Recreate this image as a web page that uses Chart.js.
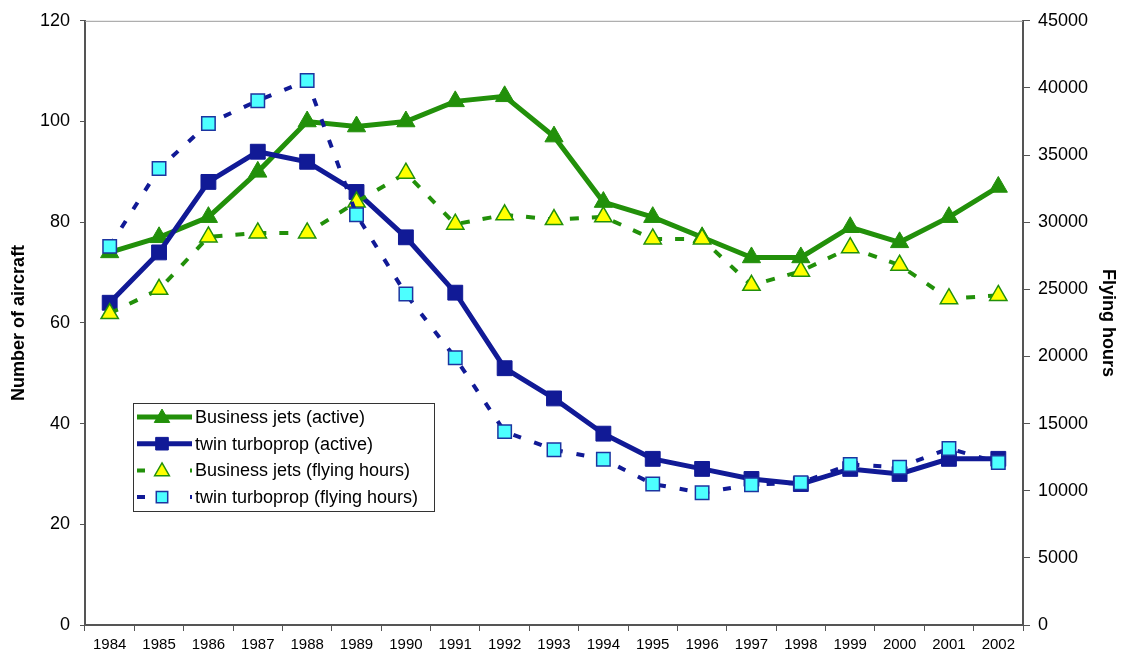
<!DOCTYPE html>
<html>
<head>
<meta charset="utf-8">
<script src="https://cdn.jsdelivr.net/npm/chart.js@4"></script>
<style>
    html, body { margin: 0; padding: 0; background: #fff; }
    #wrap { width: 1121px; height: 657px; position: relative; }
</style>
</head>
<body>
<div id="wrap"><canvas id="chart" width="1121" height="657"></canvas></div>
<script>
const years = ['1984', '1985', '1986', '1987', '1988', '1989', '1990', '1991', '1992', '1993',
    '1994', '1995', '1996', '1997', '1998', '1999', '2000', '2001', '2002'];

// Number of aircraft (left axis)
const jetsActive = [74, 77, 81, 90, 100, 99, 100, 104, 105, 97, 84, 81, 77, 73, 73, 79, 76, 81, 87];
const turbopropActive = [64, 74, 88, 94, 92, 86, 77, 66, 51, 45, 38, 33, 31, 29, 28, 31, 30, 33, 33];

// Flying hours (right axis)
const jetsHours = [23200, 25000, 28900, 29200, 29200, 31500, 33650, 29850, 30550, 30200,
    30400, 28750, 28750, 25300, 26350, 28100, 26800, 24300, 24550];
const turbopropHours = [28200, 34000, 37350, 39050, 40550, 30550, 24650, 19900, 14400, 13050,
    12350, 10500, 9850, 10450, 10600, 11950, 11750, 13150, 12100];

const leftTicks = [0, 20, 40, 60, 80, 100, 120];
const rightTicks = [0, 5000, 10000, 15000, 20000, 25000, 30000, 35000, 40000, 45000];

const GREEN = '#22900a';
const NAVY = '#111a96';
const FONT = "'Liberation Sans', Arial, sans-serif";

// thin border along the top of the plot area
const topBorder = {
    id: 'topBorder',
    afterDraw(chart) {
        const { ctx, chartArea } = chart;
        ctx.save();
        ctx.strokeStyle = '#9a9a9a';
        ctx.lineWidth = 1;
        ctx.beginPath();
        ctx.moveTo(chartArea.left, chartArea.top + 0.5);
        ctx.lineTo(chartArea.right, chartArea.top + 0.5);
        ctx.stroke();
        ctx.restore();
    }
};

// boxed legend inside the plot area
const boxLegend = {
    id: 'boxLegend',
    afterDraw(chart) {
        const { ctx } = chart;
        const box = { x: 133.5, y: 403.5, w: 301, h: 108 };
        ctx.save();
        ctx.fillStyle = '#fff';
        ctx.fillRect(box.x, box.y, box.w, box.h);
        ctx.strokeStyle = '#333';
        ctx.lineWidth = 1;
        ctx.strokeRect(box.x, box.y, box.w, box.h);

        chart.data.datasets.forEach((ds, i) => {
            const y = 417 + i * 26.7;
            const x0 = 137, x1 = 192, xm = 162;
            ctx.strokeStyle = ds.borderColor;
            ctx.lineWidth = ds.borderWidth;
            ctx.setLineDash([]);
            ctx.beginPath();
            if (ds.borderDash) {
                ctx.moveTo(x0, y); ctx.lineTo(x0 + 8, y);
                ctx.moveTo(x1 - 2, y); ctx.lineTo(x1, y);
            } else {
                ctx.moveTo(x0, y); ctx.lineTo(x1, y);
            }
            ctx.stroke();
            ctx.fillStyle = ds.pointBackgroundColor;
            ctx.strokeStyle = ds.pointBorderColor;
            ctx.lineWidth = ds.pointBorderWidth;
            Chart.helpers.drawPoint(ctx, {
                pointStyle: ds.pointStyle,
                radius: ds.pointRadius * 0.85,
                borderWidth: ds.pointBorderWidth
            }, xm, y + (ds.pointStyle === 'triangle' ? 1 : 0));
            ctx.fillStyle = '#000';
            ctx.font = '18px ' + FONT;
            ctx.textAlign = 'left';
            ctx.textBaseline = 'middle';
            ctx.fillText(ds.label, 195, y + 1);
        });
        ctx.restore();
    }
};

const ctx = document.getElementById('chart').getContext('2d');
const chart = new Chart(ctx, {
    type: 'line',
    data: {
        labels: years,
        datasets: [
            {
                label: 'Business jets (active)',
                data: jetsActive,
                yAxisID: 'y',
                borderColor: GREEN,
                borderWidth: 5,
                pointStyle: 'triangle',
                pointRadius: 10.5,
                pointBackgroundColor: GREEN,
                pointBorderColor: GREEN,
                pointBorderWidth: 1,
                order: 4
            },
            {
                label: 'twin turboprop (active)',
                data: turbopropActive,
                yAxisID: 'y',
                borderColor: NAVY,
                borderWidth: 5,
                pointStyle: 'rect',
                pointRadius: 10.5,
                pointBackgroundColor: NAVY,
                pointBorderColor: NAVY,
                pointBorderWidth: 1,
                order: 3
            },
            {
                label: 'Business jets (flying hours)',
                data: jetsHours,
                yAxisID: 'y1',
                borderColor: GREEN,
                borderWidth: 4,
                borderDash: [9, 13],
                pointStyle: 'triangle',
                pointRadius: 10,
                pointBackgroundColor: '#ffff00',
                pointBorderColor: GREEN,
                pointBorderWidth: 1.5,
                order: 2
            },
            {
                label: 'twin turboprop (flying hours)',
                data: turbopropHours,
                yAxisID: 'y1',
                borderColor: NAVY,
                borderWidth: 4,
                borderDash: [8, 14],
                pointStyle: 'rect',
                pointRadius: 9.5,
                pointBackgroundColor: '#4dffff',
                pointBorderColor: '#1c35a0',
                pointBorderWidth: 1.5,
                order: 1
            }
        ]
    },
    options: {
        responsive: false,
        animation: false,
        devicePixelRatio: 1,
        layout: { padding: { top: 20, left: 0, right: 0, bottom: 0 } },
        plugins: {
            legend: { display: false },
            tooltip: { enabled: false }
        },
        elements: { line: { tension: 0 } },
        scales: {
            x: {
                offset: true,
                grid: { offset: true, drawOnChartArea: false, drawTicks: true, tickLength: 6, color: '#555' },
                border: { color: '#555', width: 2 },
                ticks: { color: '#000', font: { family: FONT, size: 15 }, padding: 5, maxRotation: 0, autoSkip: false },
                afterFit(scale) { scale.height = 32; }
            },
            y: {
                position: 'left',
                min: 0,
                max: 120,
                afterBuildTicks(scale) { scale.ticks = leftTicks.map(v => ({ value: v })); },
                grid: { drawOnChartArea: false, drawTicks: true, tickLength: 5, color: '#555' },
                border: { color: '#555', width: 2 },
                ticks: { color: '#000', font: { family: FONT, size: 18 }, padding: 10, callback: v => String(v) },
                title: {
                    display: true,
                    text: 'Number of aircraft',
                    color: '#000',
                    font: { family: FONT, size: 18, weight: 'bold', lineHeight: 1 },
                    padding: { top: 10, bottom: 0 }
                },
                afterFit(scale) { scale.width = 85; }
            },
            y1: {
                position: 'right',
                min: 0,
                max: 45000,
                afterBuildTicks(scale) { scale.ticks = rightTicks.map(v => ({ value: v })); },
                grid: { drawOnChartArea: false, drawTicks: true, tickLength: 7, color: '#555' },
                border: { color: '#555', width: 2 },
                ticks: { color: '#000', font: { family: FONT, size: 18 }, padding: 8, callback: v => String(v) },
                title: {
                    display: true,
                    text: 'Flying hours',
                    color: '#000',
                    font: { family: FONT, size: 18, weight: 'bold', lineHeight: 1 },
                    padding: { top: 4, bottom: 0 }
                },
                afterFit(scale) { scale.width = 98; }
            }
        }
    },
    plugins: [topBorder, boxLegend]
});
</script>
</body>
</html>
